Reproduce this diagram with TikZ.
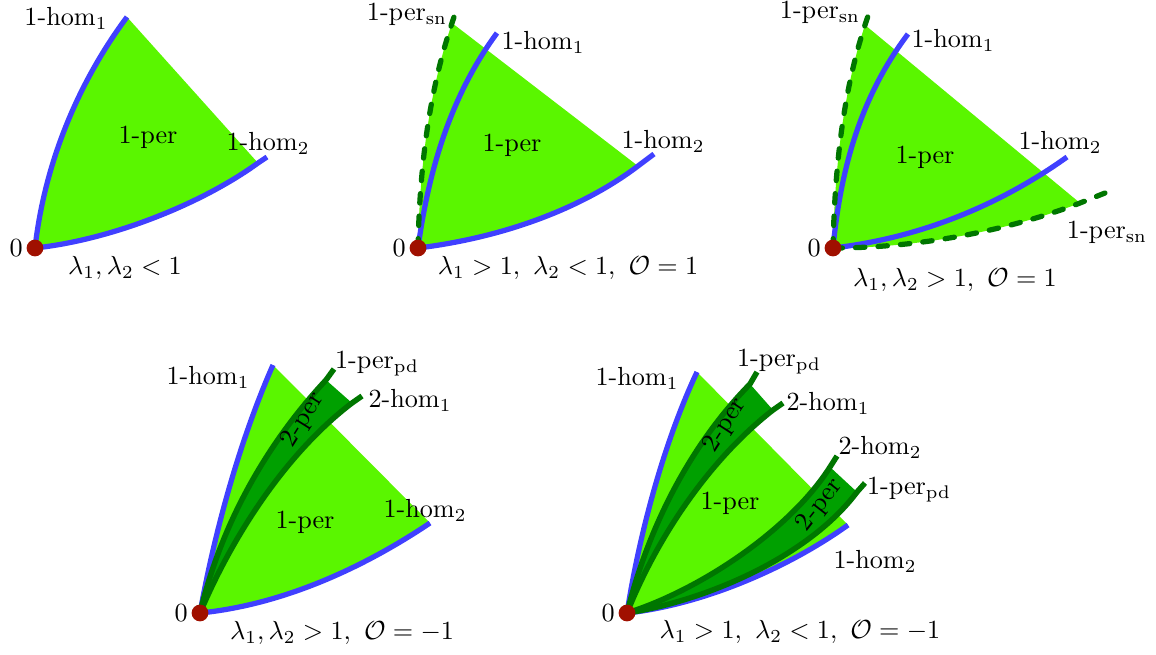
\documentclass[tikz,border=0pt]{standalone}
\usepackage{amsmath}
\usepackage{amssymb}
\usetikzlibrary{positioning}
\definecolor{pergreen}{RGB}{90,246,0}
\definecolor{bandgreen}{RGB}{0,160,0}
\definecolor{darkgreen}{RGB}{0,118,0}
\definecolor{homblue}{RGB}{64,64,255}
\definecolor{dotred}{RGB}{160,16,0}

\begin{document}
\begin{tikzpicture}[
    x=0.382pt, y=-0.382pt,
    hom/.style={draw=homblue, line width=2pt},
    snline/.style={draw=darkgreen, line width=2pt, line cap=round, dash pattern=on 3.6pt off 5pt},
    pdline/.style={draw=darkgreen, line width=2.1pt},
    band/.style={fill=bandgreen},
    lab/.style={inner sep=1pt},
    zero/.style={inner sep=0pt}
]
    \useasboundingbox (0,0) rectangle (1156,654);
    \coordinate (o1) at (35,248);
    \coordinate (o2) at (418,248);
    \coordinate (o3) at (833,248);
    \coordinate (o4) at (200,613);
    \coordinate (o5) at (627,613);

    % panel 1
    \fill[pergreen] (o1) .. controls (45,160) and (80,80) .. (127,17) -- (258,163)
        .. controls (200,205) and (110,240) .. (o1);
    \draw[hom] (o1) .. controls (45,160) and (80,80) .. (127,17);
    \draw[hom] (o1) .. controls (110,240) and (200,205) .. (258,163) -- (267,157);

    % panel 2
    \fill[pergreen] (o2) .. controls (420,150) and (433,80) .. (452,23) -- (638,166)
        .. controls (580,210) and (500,238) .. (o2);
    \draw[hom] (o2) .. controls (430,160) and (455,90) .. (497,33);
    \draw[hom] (o2) .. controls (500,238) and (580,210) .. (638,166) -- (654,154);
    \draw[snline] (o2) .. controls (420,150) and (433,80) .. (452,23) -- (458,5);

    % panel 3
    \fill[pergreen] (o3) .. controls (835,150) and (847,80) .. (865,25) -- (1080,203)
        .. controls (1010,230) and (920,248) .. (o3);
    \draw[hom] (o3) .. controls (841,165) and (862,95) .. (908,34);
    \draw[hom] (o3) .. controls (920,238) and (1000,205) .. (1067,157);
    \draw[snline] (o3) .. controls (835,150) and (847,80) .. (865,25) -- (871,7);
    \draw[snline] (o3) .. controls (920,248) and (1010,230) .. (1080,203) -- (1105,193);

    % panel 4
    \fill[pergreen] (o4) .. controls (215,530) and (240,440) .. (273,365) -- (430,523)
        .. controls (360,570) and (280,605) .. (o4);
    \fill[band] (o4) .. controls (222,520) and (270,440) .. (326,380) -- (352,403)
        .. controls (290,450) and (235,530) .. (o4);
    \draw[hom] (o4) .. controls (215,530) and (240,440) .. (273,365);
    \draw[hom] (o4) .. controls (280,605) and (360,570) .. (430,523);
    \draw[pdline] (o4) .. controls (222,520) and (270,440) .. (326,380) -- (334,369);
    \draw[pdline] (o4) .. controls (235,530) and (290,450) .. (352,403) -- (362,396);

    % panel 5
    \fill[pergreen] (o5) .. controls (640,530) and (665,440) .. (697,372) -- (848,525)
        .. controls (785,570) and (700,605) .. (o5);
    \fill[band] (o5) .. controls (650,520) and (695,440) .. (750,384) -- (773,410)
        .. controls (715,455) and (660,530) .. (o5);
    \fill[band] (o5) .. controls (700,590) and (790,530) .. (830,467) -- (857,492)
        .. controls (810,555) and (710,600) .. (o5);
    \draw[hom] (o5) .. controls (640,530) and (665,440) .. (697,372);
    \draw[hom] (o5) .. controls (700,605) and (785,570) .. (848,525);
    \draw[pdline] (o5) .. controls (650,520) and (695,440) .. (750,384) -- (757,372);
    \draw[pdline] (o5) .. controls (660,530) and (715,455) .. (773,410) -- (783,403);
    \draw[pdline] (o5) .. controls (700,590) and (790,530) .. (830,467) -- (837,456);
    \draw[pdline] (o5) .. controls (710,600) and (810,555) .. (857,492) -- (865,483);

    % equilibria
    \foreach \o in {o1,o2,o3,o4,o5} {
        \fill[dotred] (\o) circle (3.2pt);
        \node[zero, left=4.5pt of \o] (z\o) {0};
    }

    % labels
    \node[lab] (a1) at (66,18) {1-hom$_1$};
    \node[lab] (a2) at (148,137) {1-per};
    \node[lab] (a3) at (268,143) {1-hom$_2$};
    \node[lab] (a4) at (125,268) {$\lambda_1, \lambda_2 < 1$};

    \node[lab] (b1) at (407,14) {1-per$_{\mathrm{sn}}$};
    \node[lab] (b2) at (543,42) {1-hom$_1$};
    \node[lab] (b3) at (512,145) {1-per};
    \node[lab] (b4) at (663,141) {1-hom$_2$};
    \node[lab] (b5) at (568,268) {$\lambda_1 > 1,\ \lambda_2 < 1,\ \mathcal{O} = 1$};

    \node[lab] (c1) at (820,12) {1-per$_{\mathrm{sn}}$};
    \node[lab] (c2) at (953,40) {1-hom$_1$};
    \node[lab] (c3) at (925,157) {1-per};
    \node[lab] (c4) at (1060,142) {1-hom$_2$};
    \node[lab] (c5) at (1107,232) {1-per$_{\mathrm{sn}}$};
    \node[lab] (c6) at (955,280) {$\lambda_1, \lambda_2 > 1,\ \mathcal{O} = 1$};

    \node[lab] (d1) at (208,377) {1-hom$_1$};
    \node[lab] (d2) at (377,364) {1-per$_{\mathrm{pd}}$};
    \node[lab] (d3) at (410,400) {2-hom$_1$};
    \node[lab] (d4) at (425,510) {1-hom$_2$};
    \node[lab] (d5) at (305,522) {1-per};
    \node[lab, rotate=58] (d6) at (303,420) {2-per};
    \node[lab] (d7) at (342,633) {$\lambda_1, \lambda_2 > 1,\ \mathcal{O} = -1$};

    \node[lab] (e1) at (637,378) {1-hom$_1$};
    \node[lab] (e2) at (779,362) {1-per$_{\mathrm{pd}}$};
    \node[lab] (e3) at (828,403) {2-hom$_1$};
    \node[lab] (e4) at (880,447) {2-hom$_2$};
    \node[lab] (e5) at (909,490) {1-per$_{\mathrm{pd}}$};
    \node[lab] (e6) at (730,503) {1-per};
    \node[lab] (e7) at (875,561) {1-hom$_2$};
    \node[lab, rotate=57] (e8) at (725,425) {2-per};
    \node[lab, rotate=52] (e9) at (820,505) {2-per};
    \node[lab] (e10) at (800,632) {$\lambda_1 > 1,\ \lambda_2 < 1,\ \mathcal{O} = -1$};
\end{tikzpicture}
\end{document}
